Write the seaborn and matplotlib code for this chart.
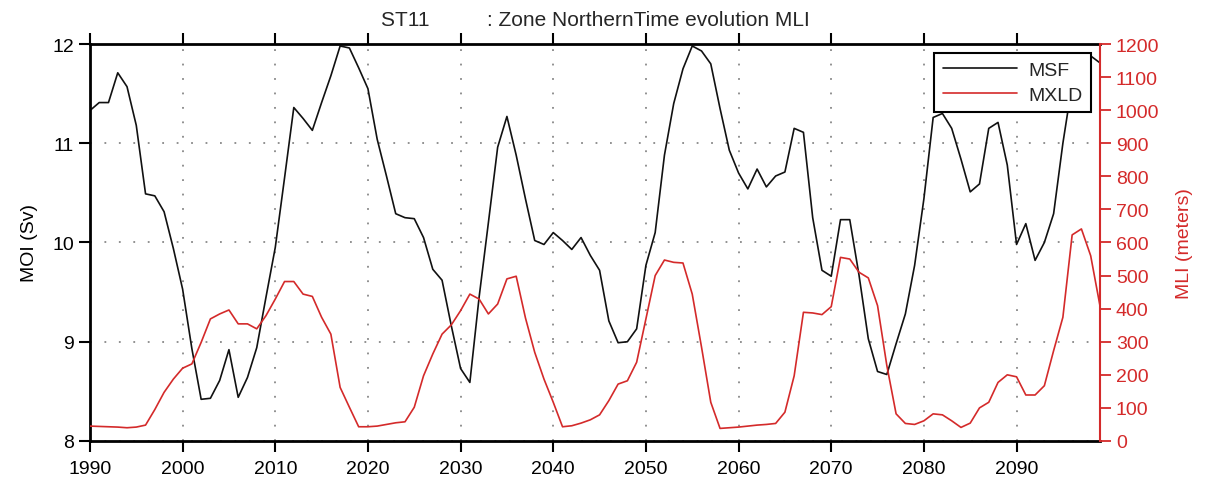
import matplotlib
matplotlib.use("Agg")
import matplotlib.pyplot as plt
from matplotlib.lines import Line2D
import seaborn as sns
import pandas as pd

# Annual series
years = list(range(1990, 2100))
msf = [
    11.33, 11.41, 11.41, 11.71, 11.57, 11.18, 10.49, 10.47, 10.31, 9.94,
    9.53, 8.93, 8.42, 8.43, 8.61, 8.92, 8.44, 8.64, 8.94, 9.45,
    9.95, 10.65, 11.36, 11.25, 11.13, 11.41, 11.68, 11.98, 11.96, 11.76,
    11.55, 11.04, 10.67, 10.29, 10.25, 10.24, 10.05, 9.73, 9.62, 9.16,
    8.73, 8.59, 9.45, 10.20, 10.96, 11.27, 10.88, 10.44, 10.02, 9.98,
    10.10, 10.02, 9.93, 10.05, 9.87, 9.72, 9.21, 8.99, 9.00, 9.13,
    9.77, 10.10, 10.88, 11.40, 11.75, 11.98, 11.93, 11.80, 11.35, 10.93,
    10.70, 10.54, 10.74, 10.56, 10.67, 10.71, 11.15, 11.11, 10.25, 9.72,
    9.66, 10.23, 10.23, 9.67, 9.03, 8.70, 8.67, 8.98, 9.28, 9.77,
    10.44, 11.26, 11.30, 11.15, 10.84, 10.51, 10.59, 11.15, 11.21, 10.78,
    9.98, 10.19, 9.82, 10.00, 10.29, 11.00, 11.60, 11.84, 11.88, 11.81,
]
mxld = [
    45, 44, 43, 42, 40, 42, 48, 95, 147, 187,
    220, 233, 298, 369, 384, 396, 354, 354, 339, 379,
    429, 482, 482, 444, 437, 374, 323, 162, 102, 43,
    43, 45, 50, 55, 58, 102, 197, 263, 323, 351,
    394, 444, 429, 384, 414, 490, 498, 372, 268, 187,
    117, 43, 46, 54, 64, 79, 122, 172, 182, 238,
    369, 500, 547, 540, 538, 444, 284, 117, 38, 40,
    42, 45, 48, 50, 53, 87, 197, 389, 387, 382,
    406, 555, 550, 510, 493, 409, 228, 82, 53, 50,
    61, 82, 79, 61, 41, 54, 100, 117, 177, 200,
    194, 139, 139, 167, 273, 374, 623, 641, 560, 409,
]
x_ticks = list(range(1990, 2100, 10))
moi_ticks = [8, 9, 10, 11, 12]
mli_ticks = list(range(0, 1300, 100))

title = "ST11          : Zone NorthernTime evolution MLI"

df = pd.DataFrame({"year": years, "MSF": msf, "MXLD": mxld})

sns.set_style("ticks")
plt.rcParams["font.family"] = ["Liberation Sans", "DejaVu Sans"]

RED = "#d42a2a"

fig = plt.figure(figsize=(12.09, 4.85), dpi=100)
ax = fig.add_axes([0.0744, 0.0887, 0.8354, 0.8185])
ax2 = ax.twinx()

sns.lineplot(data=df, x="year", y="MSF", ax=ax, color="#111111", linewidth=1.2)
sns.lineplot(data=df, x="year", y="MXLD", ax=ax2, color=RED, linewidth=1.2)

ax.set_xlim(1990, 2099)
ax.set_ylim(8, 12)
ax2.set_ylim(0, 1200)

ax.set_xticks(x_ticks)
ax.set_yticks(moi_ticks)
ax2.set_yticks(mli_ticks)

ax.grid(True, color="#888888", linestyle=(0, (1, 7)), linewidth=1.3)
ax2.grid(False)

ax.set_xlabel("")
ax.set_ylabel("MOI (Sv)", fontsize=14, color="black", labelpad=10)
ax2.set_ylabel("MLI (meters)", fontsize=14, color=RED, labelpad=12)

ax.tick_params(axis="x", which="major", direction="out", length=8, width=1.5,
               labelsize=14, top=True, pad=6, colors="black")
ax.tick_params(axis="y", which="major", direction="out", length=8, width=1.5,
               labelsize=14, colors="black")
ax2.tick_params(axis="y", which="major", direction="out", length=8, width=1.3,
                labelsize=14, colors=RED)

for side in ("left", "bottom", "top"):
    ax.spines[side].set_visible(True)
    ax.spines[side].set_linewidth(2.0)
    ax.spines[side].set_color("black")
ax.spines["right"].set_visible(False)
for side in ("left", "bottom", "top"):
    ax2.spines[side].set_visible(False)
ax2.spines["right"].set_visible(True)
ax2.spines["right"].set_color(RED)
ax2.spines["right"].set_linewidth(1.5)

handles = [Line2D([], [], color="#111111", linewidth=1.2),
           Line2D([], [], color=RED, linewidth=1.2)]
leg = ax2.legend(handles, ["MSF", "MXLD"], loc="upper right", fontsize=14,
                 frameon=True, fancybox=False, framealpha=1.0, edgecolor="black",
                 borderaxespad=0.45, handlelength=3.8, handletextpad=0.6,
                 borderpad=0.45, labelspacing=0.35)
leg.get_frame().set_linewidth(1.5)

ax.set_title(title, fontsize=15, pad=14)

fig.savefig("out.png", dpi=100)
